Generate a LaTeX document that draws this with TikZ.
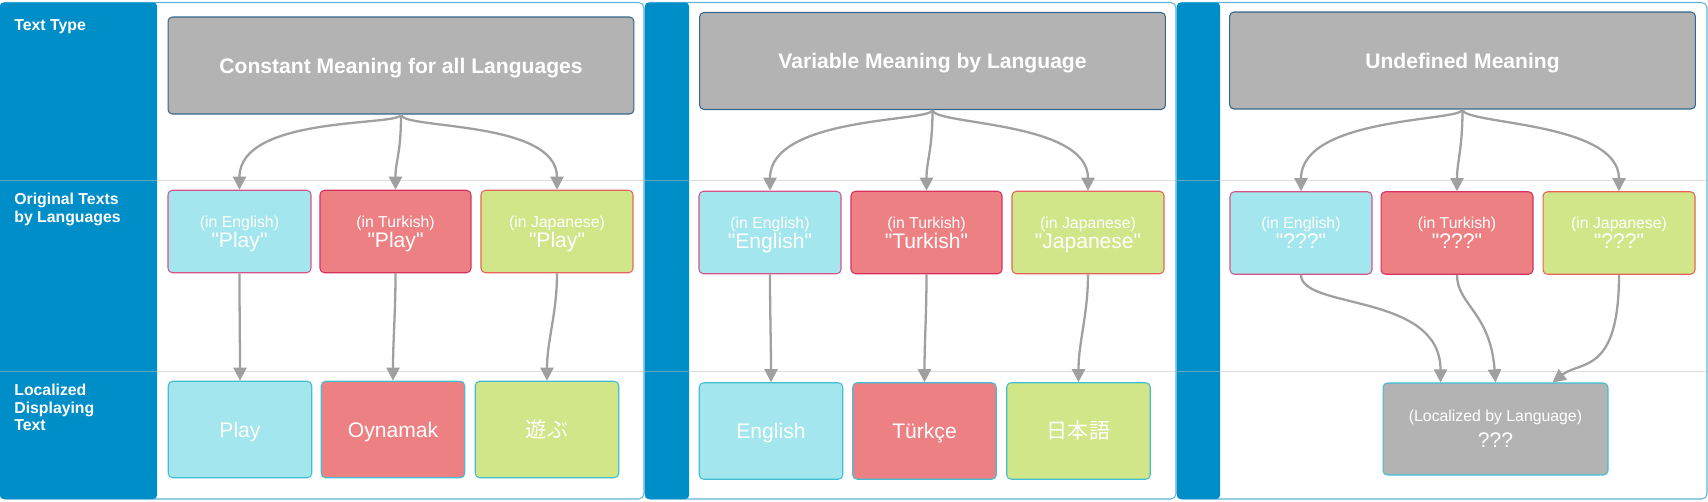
\documentclass[tikz,border=0pt]{standalone}
\usepackage{fontspec}
\setmainfont{Liberation Sans}[Ligatures=TeXOff]
\newfontfamily\jpfont{Noto Sans CJK JP}
\usetikzlibrary{arrows.meta}

\definecolor{bandblue}{RGB}{0, 142, 200}
\definecolor{frameblue}{RGB}{95, 180, 220}
\definecolor{titlegray}{RGB}{179, 179, 179}
\definecolor{titleline}{RGB}{52, 104, 140}
\definecolor{encyan}{RGB}{163, 230, 237}
\definecolor{trred}{RGB}{237, 128, 131}
\definecolor{jpgreen}{RGB}{209, 230, 136}
\definecolor{cyanline}{RGB}{210, 85, 140}
\definecolor{redline}{RGB}{215, 50, 95}
\definecolor{greenline}{RGB}{232, 100, 90}
\definecolor{tealline}{RGB}{65, 190, 210}
\definecolor{arrowgray}{RGB}{160, 160, 160}

\newcommand\langtag[1]{{\fontsize{9}{11.5}\selectfont #1}}

\begin{document}
\begin{tikzpicture}[x=0.02cm, y=-0.02cm,
	box/.style={rounded corners=2.5pt, line width=0.6pt, text=white, align=center, inner sep=0pt},
	titlebox/.style={box, fill=titlegray, draw=titleline, minimum width=9.32cm, minimum height=1.94cm, text height=8.6pt, text depth=0pt, font=\fontsize{12}{14}\selectfont\bfseries},
	origbox/.style={box, minimum height=1.65cm, text depth=0pt, font=\fontsize{12}{11.5}\selectfont},
	locbox/.style={box, draw=tealline, minimum width=2.87cm, minimum height=1.93cm, text height=8.6pt, text depth=0pt, font=\fontsize{12}{14}\selectfont},
	flow/.style={draw=arrowgray, line width=1.3pt, -{Triangle[length=7.5pt, width=7.5pt]}},
	rowlabel/.style={anchor=north west, text=white, align=left, inner sep=0pt, font=\fontsize{9}{10}\selectfont\bfseries},
	sepline/.style={draw=black!25, opacity=0.5, line width=0.6pt}]
	
	\useasboundingbox (0,0) rectangle (1708,501);
	
	% Spalten mit blauem Rand und Trennlinien
	\foreach \xa/\xb/\xc in {0/157/644, 645/689/1176, 1177/1220/1707} {
		\draw[frameblue, fill=white, rounded corners=3pt, line width=0.6pt] (\xa,2.5) rectangle (\xc,499);
		\fill[bandblue, rounded corners=2pt] (\xa,2.5) rectangle (\xb,499);
		\draw[sepline] (\xa,180.5) -- (\xc,180.5);
		\draw[sepline] (\xa,371.5) -- (\xc,371.5);
	}
	
	% Zeilenbeschriftung links
	\node[rowlabel] (tt) at (14,19) {Text Type};
	\node[rowlabel] (ot) at (14,193) {Original Texts\\by Languages};
	\node[rowlabel] (ld) at (14,384) {Localized\\Displaying\\Text};
	
	% Spalte 1: konstante Bedeutung
	\node[titlebox] (t1) at (401,65.5) {Constant Meaning for all Languages};
	\node[origbox, fill=encyan, draw=cyanline, minimum width=2.86cm] (o1a) at (239.5,231.5) {\langtag{(in English)}\\"Play"};
	\node[origbox, fill=trred, draw=redline, minimum width=3.02cm] (o1b) at (395.5,231.5) {\langtag{(in Turkish)}\\"Play"};
	\node[origbox, fill=jpgreen, draw=greenline, minimum width=3.04cm] (o1c) at (557,231.5) {\langtag{(in Japanese)}\\"Play"};
	\node[locbox, fill=encyan] (l1a) at (240,429.5) {Play};
	\node[locbox, fill=trred] (l1b) at (393,429.5) {Oynamak};
	\node[locbox, fill=jpgreen] (l1c) at (547,429.5) {\jpfont 遊ぶ};
	
	% Spalte 2: Bedeutung je Sprache
	\node[titlebox] (t2) at (932.5,61) {Variable Meaning by Language};
	\node[origbox, fill=encyan, draw=cyanline, minimum width=2.84cm] (o2a) at (770,232.5) {\langtag{(in English)}\\"English"};
	\node[origbox, fill=trred, draw=redline, minimum width=3.02cm] (o2b) at (926.5,232.5) {\langtag{(in Turkish)}\\"Turkish"};
	\node[origbox, fill=jpgreen, draw=greenline, minimum width=3.04cm] (o2c) at (1088,232.5) {\langtag{(in Japanese)}\\"Japanese"};
	\node[locbox, fill=encyan] (l2a) at (771,431) {English};
	\node[locbox, fill=trred] (l2b) at (924.5,431) {Türkçe};
	\node[locbox, fill=jpgreen] (l2c) at (1078.5,431) {\jpfont 日本語};
	
	% Spalte 3: undefinierte Bedeutung
	\node[titlebox] (t3) at (1462.5,60.5) {Undefined Meaning};
	\node[origbox, fill=encyan, draw=cyanline, minimum width=2.84cm] (o3a) at (1301,233) {\langtag{(in English)}\\"???"};
	\node[origbox, fill=trred, draw=redline, minimum width=3.04cm] (o3b) at (1457,233) {\langtag{(in Turkish)}\\"???"};
	\node[origbox, fill=jpgreen, draw=greenline, minimum width=3.04cm] (o3c) at (1619,233) {\langtag{(in Japanese)}\\"???"};
	\node[box, fill=titlegray, draw=tealline, minimum width=4.5cm, minimum height=1.84cm, font=\fontsize{12}{14.5}\selectfont] (l3) at (1495.5,429) {{\fontsize{9}{14.5}\selectfont (Localized by Language)}\\???};
	
	% Pfeile vom Texttyp zu den Originaltexten
	\foreach \n in {1,2,3} {
		\draw[flow] (t\n.south) .. controls +(0,12) and +(0,-75) .. (o\n a.north);
		\draw[flow] (t\n.south) .. controls +(0,40) and +(0,-30) .. (o\n b.north);
		\draw[flow] (t\n.south) .. controls +(0,15) and +(0,-70) .. (o\n c.north);
	}
	
	% Pfeile zu den angezeigten Texten
	\foreach \n in {1,2} {
		\foreach \k in {a,b,c} {
			\draw[flow] (o\n\k.south) .. controls +(0,40) and +(0,-40) .. (l\n\k.north);
		}
	}
	\draw[flow] (o3a.south) .. controls +(0,35) and +(0,-90) .. ([xshift=-1.1cm]l3.north);
	\draw[flow] (o3b.south) .. controls +(0,30) and +(-5,-70) .. (l3.north);
	\draw[flow] (o3c.south) .. controls +(0,100) and +(28,-22) .. ([xshift=1.14cm]l3.north);
	
\end{tikzpicture}
\end{document}
